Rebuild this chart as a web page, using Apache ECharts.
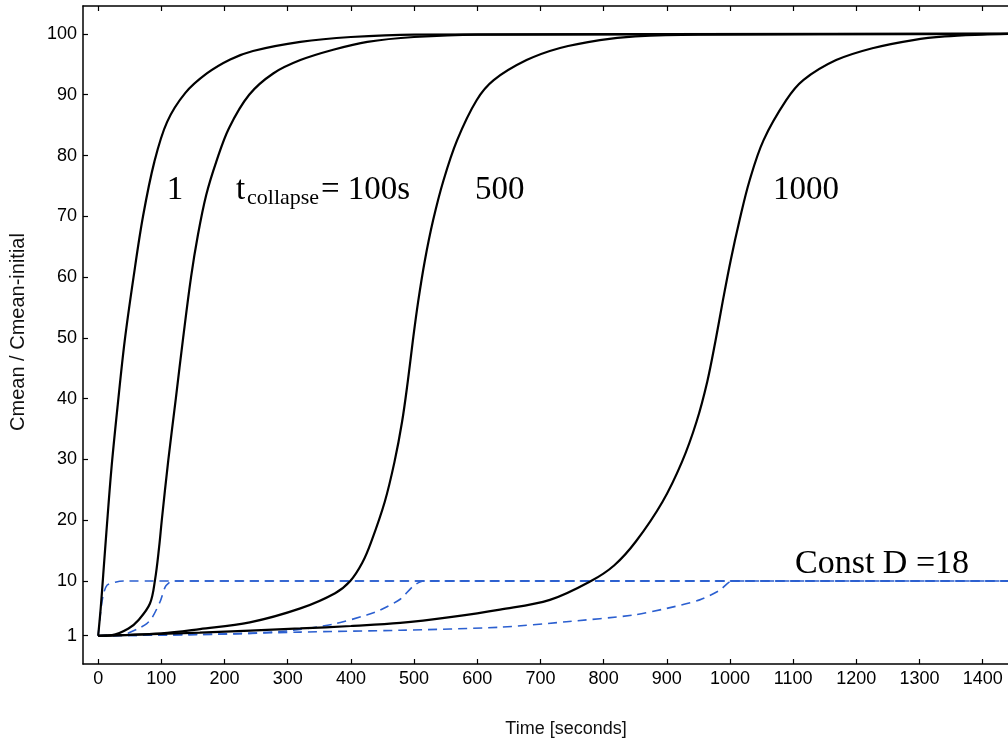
<!DOCTYPE html>
<html>
<head>
<meta charset="utf-8">
<script src="https://cdn.jsdelivr.net/npm/echarts@6/dist/echarts.min.js"></script>
<style>
  html, body { margin: 0; padding: 0; background: #ffffff; }
  #chart { width: 1008px; height: 740px; }
</style>
</head>
<body>
<div id="chart"></div>
<script>
// ---- tick labels ----
const timeTicks = [0, 100, 200, 300, 400, 500, 600, 700, 800, 900, 1000, 1100, 1200, 1300, 1400];
const yTicks = [1, 10, 20, 30, 40, 50, 60, 70, 80, 90, 100];

// ---- black curves (t_collapse = 1, 100, 500, 1000 s) ----
const c1Time = [0, 4, 8, 13, 21, 31, 42, 56, 71, 89, 109, 138, 172, 209, 245, 320, 400, 500, 1440];
const c1Val  = [1, 5.5, 11, 18, 28.5, 39, 49.5, 60, 70, 79, 85.5, 90.3, 93.5, 95.8, 97.2, 98.7, 99.5, 99.9, 100];

const c100Time = [0, 22, 48, 64, 82, 90, 96.5, 100.7, 111, 123, 134.5, 147, 158, 171, 187, 207, 239, 277, 320, 372, 426, 500, 600, 1440];
const c100Val  = [1, 1.1, 2.2, 3.6, 6.3, 10.2, 15.6, 20, 29.9, 40.1, 50, 60, 67, 73.5, 79, 84.5, 90, 93.5, 95.7, 97.4, 98.7, 99.5, 99.9, 100];

const c500Time = [0, 100, 161, 240, 320, 375, 399, 418, 432, 453.5, 469, 481, 490, 498, 506.5, 517, 530, 546.5, 568, 599, 626, 678, 731, 794, 850, 950, 1440];
const c500Val  = [1, 1.4, 2.1, 3.2, 5.5, 8, 10, 13, 16.4, 23, 29.6, 36.2, 42.8, 49.5, 56, 62.7, 69.3, 75.9, 82.5, 89.1, 92.4, 95.7, 97.7, 99, 99.6, 99.9, 100];

const c1000Time = [0, 161, 320, 400, 478, 560, 636, 715, 780, 817, 851, 893, 924, 947, 964, 977, 988.5, 1001, 1015, 1031, 1053, 1089, 1116, 1168, 1227, 1290, 1340, 1400, 1440];
const c1000Val  = [1, 1.5, 2.2, 2.6, 3.1, 4.1, 5.3, 6.9, 10, 12.6, 16.5, 23, 29.6, 36.2, 42.8, 49.5, 56, 62.7, 69.3, 75.9, 82.5, 89.1, 92.4, 95.7, 97.7, 99, 99.6, 99.9, 100];

// ---- blue dashed curves (Const D = 18) ----
const d1Time = [0, 4, 8, 14, 27, 40, 1440];
const d1Val  = [1, 5, 7.7, 9.3, 9.8, 10, 10];

const d100Time = [0, 40, 64, 77, 85, 98, 106, 112, 118, 1440];
const d100Val  = [1, 1.2, 2.2, 3, 3.9, 6.6, 9, 9.7, 10, 10];

const d500Time = [0, 214, 300, 372, 425, 446, 478, 499, 515, 1440];
const d500Val  = [1, 1.3, 1.8, 2.9, 4.4, 5.2, 7, 9.2, 10, 10];

const d1000Time = [0, 161, 320, 478, 636, 741, 847, 900, 952, 984, 1000, 1010, 1440];
const d1000Val  = [1, 1.2, 1.6, 1.9, 2.4, 3.3, 4.4, 5.5, 6.9, 8.5, 9.9, 10, 10];

function pairs(ts, vs) { return ts.map((t, i) => [t, vs[i]]); }

const blackStyle = { color: '#000', width: 2.2 };
const blueStyle = { color: '#2b5fd0', width: 1.6, type: [9, 6] };

function blackSeries(name, ts, vs) {
  return { name, type: 'line', data: pairs(ts, vs), symbol: 'none', smooth: 0.35,
           lineStyle: blackStyle, z: 3, silent: true };
}
function blueSeries(name, ts, vs) {
  return { name, type: 'line', data: pairs(ts, vs), symbol: 'none', smooth: 0.25,
           lineStyle: blueStyle, z: 2, silent: true };
}

const sansFont = '"Liberation Sans", Arial, Helvetica, sans-serif';
const serifFont = '"Liberation Serif", "Times New Roman", serif';

const axisLineStyle = { color: '#000', width: 1.5 };
const tickStyle = { color: '#000', width: 1.2 };
const plain = v => String(v);

const chart = echarts.init(document.getElementById('chart'), null, { renderer: 'canvas' });
chart.setOption({
  animation: false,
  backgroundColor: '#ffffff',
  grid: { left: 83, top: 6, right: 0, bottom: 76, containLabel: false },
  xAxis: [{
    type: 'value', position: 'bottom', min: -24, max: 1440,
    axisLine: { show: true, onZero: false, lineStyle: axisLineStyle },
    axisTick: { show: true, inside: true, length: 5, customValues: timeTicks, lineStyle: tickStyle },
    axisLabel: { show: true, customValues: timeTicks, formatter: plain, margin: 6, fontSize: 18, color: '#000', fontFamily: sansFont },
    splitLine: { show: false }
  }, {
    type: 'value', position: 'top', min: -24, max: 1440,
    axisLine: { show: true, onZero: false, lineStyle: axisLineStyle },
    axisTick: { show: true, inside: true, length: 5, customValues: timeTicks, lineStyle: tickStyle },
    axisLabel: { show: false },
    splitLine: { show: false }
  }],
  yAxis: {
    type: 'value', min: -3.65, max: 104.6,
    axisLine: { show: true, onZero: false, lineStyle: axisLineStyle },
    axisTick: { show: true, inside: true, length: 5, customValues: yTicks, lineStyle: tickStyle },
    axisLabel: { show: true, customValues: yTicks, formatter: plain, margin: 6, fontSize: 18, color: '#000', fontFamily: sansFont },
    splitLine: { show: false }
  },
  series: [
    blueSeries('D1', d1Time, d1Val),
    blueSeries('D100', d100Time, d100Val),
    blueSeries('D500', d500Time, d500Val),
    blueSeries('D1000', d1000Time, d1000Val),
    blackSeries('C1', c1Time, c1Val),
    blackSeries('C100', c100Time, c100Val),
    blackSeries('C500', c500Time, c500Val),
    blackSeries('C1000', c1000Time, c1000Val)
  ],
  graphic: [
    { type: 'text', x: 18, y: 332, rotation: Math.PI / 2,
      style: { text: 'Cmean / Cmean-initial', font: '20px ' + sansFont, fill: '#111', align: 'center', verticalAlign: 'middle' } },
    { type: 'text', x: 566, y: 729,
      style: { text: 'Time [seconds]', font: '18px ' + sansFont, fill: '#111', align: 'center', verticalAlign: 'middle' } },
    { type: 'text', x: 175, y: 190,
      style: { text: '1', font: '33px ' + serifFont, fill: '#000', align: 'center', verticalAlign: 'middle' } },
    { type: 'text', x: 236, y: 190,
      style: { text: 't', font: '33px ' + serifFont, fill: '#000', align: 'left', verticalAlign: 'middle' } },
    { type: 'text', x: 247, y: 198,
      style: { text: 'collapse', font: '22px ' + serifFont, fill: '#000', align: 'left', verticalAlign: 'middle' } },
    { type: 'text', x: 321, y: 190,
      style: { text: '= 100s', font: '33px ' + serifFont, fill: '#000', align: 'left', verticalAlign: 'middle' } },
    { type: 'text', x: 475, y: 190,
      style: { text: '500', font: '33px ' + serifFont, fill: '#000', align: 'left', verticalAlign: 'middle' } },
    { type: 'text', x: 773, y: 190,
      style: { text: '1000', font: '33px ' + serifFont, fill: '#000', align: 'left', verticalAlign: 'middle' } },
    { type: 'text', x: 795, y: 564,
      style: { text: 'Const D =18', font: '34px ' + serifFont, fill: '#000', align: 'left', verticalAlign: 'middle' } }
  ]
});
</script>
</body>
</html>
